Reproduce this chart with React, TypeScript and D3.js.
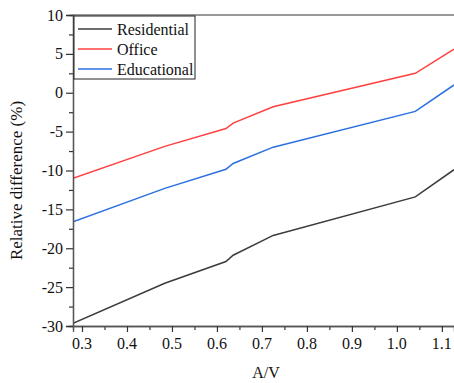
import * as d3 from 'd3';
import React, { useEffect, useRef } from 'react';

const width = 454;
const height = 383;
const margin = { top: 15, right: 0, bottom: 57, left: 73 };
const serif = '"Liberation Serif", "Times New Roman", serif';

const seriesNames = ['Residential', 'Office', 'Educational'];
const seriesColors = ['#3c3c3c', '#ff4040', '#2a70e0'];

const av = [0.28, 0.484, 0.62, 0.636, 0.725, 1.041, 1.127];
const residential = [-29.65, -24.5, -21.7, -20.9, -18.35, -13.4, -9.9];
const office = [-11.0, -6.9, -4.6, -3.9, -1.8, 2.5, 5.6];
const educational = [-16.6, -12.3, -9.85, -9.1, -7.0, -2.4, 1.0];

const xTicks = [0.3, 0.4, 0.5, 0.6, 0.7, 0.8, 0.9, 1.0, 1.1];
const yTicks = [-30, -25, -20, -15, -10, -5, 0, 5, 10];

const App = () => {
  const xAxisRef = useRef(null);
  const xMinorRef = useRef(null);
  const yAxisRef = useRef(null);
  const yMinorRef = useRef(null);

  const xScale = d3.scaleLinear().domain([0.28, 1.127]).range([margin.left, width - margin.right]);
  const yScale = d3.scaleLinear().domain([-30, 10]).range([height - margin.bottom, margin.top]);

  const line = d3.line<number>()
    .x((d, i) => xScale(av[i]))
    .y(d => yScale(d));

  const allSeries = [residential, office, educational];
  const fmtX = d3.format('.1f');

  useEffect(() => {
    const xAxis = d3.axisBottom(xScale).tickValues(xTicks).tickFormat(() => '').tickSizeOuter(0).tickSize(6);
    const xMinor = d3.axisBottom(xScale).tickValues(d3.range(0.35, 1.13, 0.1)).tickFormat(() => '').tickSizeOuter(0).tickSize(4);
    const yAxis = d3.axisLeft(yScale).tickValues(yTicks).tickFormat(() => '').tickSizeOuter(0).tickSize(7);
    const yMinor = d3.axisLeft(yScale).tickValues(d3.range(-27.5, 10, 5)).tickFormat(() => '').tickSizeOuter(0).tickSize(4);

    [[xMinorRef, xMinor], [xAxisRef, xAxis], [yMinorRef, yMinor], [yAxisRef, yAxis]].forEach(([ref, axis]) => {
      const g = d3.select(ref.current);
      g.call(axis);
      g.selectAll('path').attr('stroke', '#555').attr('stroke-width', 1.3);
      g.selectAll('line').attr('stroke', '#333').attr('stroke-width', 1.2);
    });
  }, []);

  const plotW = width - margin.left - margin.right;
  const plotH = height - margin.top - margin.bottom;
  const bottom = height - margin.bottom;

  return (
    <svg width={width} height={height} style={{ position: 'absolute', left: 0, top: 0, background: '#fff' }}>
      <defs>
        <clipPath id="plot-clip">
          <rect x={margin.left} y={margin.top} width={plotW} height={plotH} />
        </clipPath>
      </defs>
      <line x1={margin.left} x2={width} y1={margin.top} y2={margin.top} stroke="#777" strokeWidth={1.5} />
      <g clipPath="url(#plot-clip)">
        {allSeries.map((s, i) => (
          <path key={seriesNames[i]} d={line(s) || ''} fill="none" stroke={seriesColors[i]} strokeWidth={1.5} />
        ))}
      </g>
      <g ref={xMinorRef} transform={`translate(0, ${bottom})`} />
      <g ref={xAxisRef} transform={`translate(0, ${bottom})`} />
      <g ref={yMinorRef} transform={`translate(${margin.left}, 0)`} />
      <g ref={yAxisRef} transform={`translate(${margin.left}, 0)`} />

      <g fontFamily={serif} fontSize={16} fill="#111">
        {xTicks.map(t => (
          <text key={t} x={xScale(t)} y={bottom + 23} textAnchor="middle">{fmtX(t)}</text>
        ))}
        {yTicks.map(t => (
          <text key={t} x={margin.left - 10} y={yScale(t)} dy="0.35em" textAnchor="end">{t}</text>
        ))}
      </g>

      <g transform={`translate(${margin.left + 1}, ${margin.top + 1})`}>
        <rect x={0} y={0} width={121} height={63} fill="#fff" stroke="#222" strokeWidth={1} />
        {seriesNames.map((name, i) => (
          <g key={name} transform={`translate(0, ${13 + i * 20})`}>
            <line x1={4} x2={38} y1={0} y2={0} stroke={seriesColors[i]} strokeWidth={1.5} />
            <text x={43} y={0} dy="0.35em" fontSize={16} fontFamily={serif} fill="#111">{name}</text>
          </g>
        ))}
      </g>

      <text x={266} y={378} textAnchor="middle" fontSize={16} fontFamily={serif} fill="#111">A/V</text>
      <text transform={`translate(22, ${margin.top + plotH / 2 + 10}) rotate(-90)`} textAnchor="middle" fontSize={17}
        fontFamily={serif} fill="#111">Relative difference (%)</text>
    </svg>
  );
};

export default App;
